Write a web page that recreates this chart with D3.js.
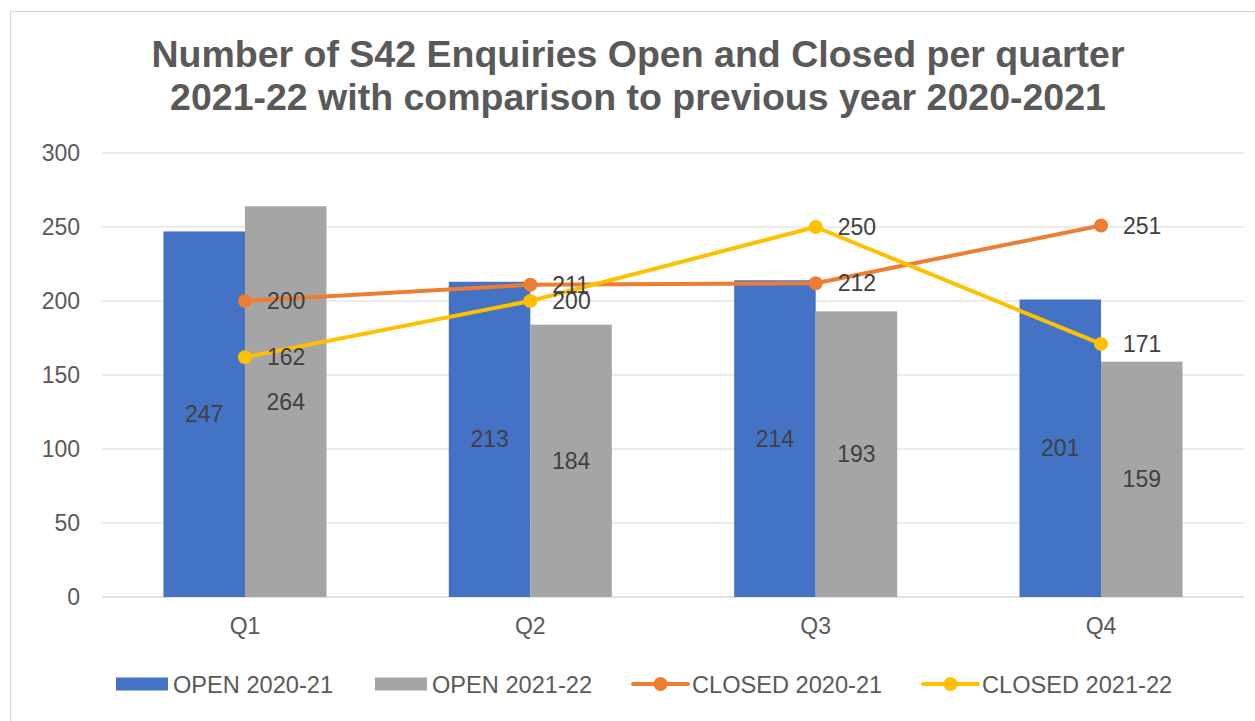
<!DOCTYPE html>
<html>
<head>
<meta charset="utf-8">
<script src="https://cdn.jsdelivr.net/npm/d3@7"></script>
<style>
  body { margin: 0; background: #fff; }
  svg { display: block; font-family: "Liberation Sans", Arial, sans-serif; }
</style>
</head>
<body>
<svg width="1255" height="721"></svg>
<script>
const categories = ["Q1", "Q2", "Q3", "Q4"];
const open2021 = [247, 213, 214, 201];
const open2122 = [264, 184, 193, 159];
const closed2021 = [200, 211, 212, 251];
const closed2122 = [162, 200, 250, 171];
const yTicks = [0, 50, 100, 150, 200, 250, 300];

const barSeries = [
  { name: "OPEN 2020-21", values: open2021, color: "#4472C4" },
  { name: "OPEN 2021-22", values: open2122, color: "#A5A5A5" }
];
const lineSeries = [
  { name: "CLOSED 2020-21", values: closed2021, color: "#ED7D31" },
  { name: "CLOSED 2021-22", values: closed2122, color: "#FFC000" }
];

const svg = d3.select("svg");

// outer frame (only top/left visible in the crop)
svg.append("rect")
  .attr("x", 10.5).attr("y", 11.5)
  .attr("width", 1400).attr("height", 900)
  .attr("fill", "none").attr("stroke", "#D9D9D9");

// title
const title = svg.append("text")
  .attr("text-anchor", "middle")
  .attr("font-weight", "bold")
  .attr("font-size", 37.5)
  .attr("fill", "#595959");
title.append("tspan").attr("x", 638).attr("y", 67)
  .text("Number of S42 Enquiries Open and Closed per quarter");
title.append("tspan").attr("x", 638).attr("y", 110)
  .text("2021-22 with comparison to previous year 2020-2021");

const x = d3.scaleBand().domain(categories).range([102.3, 1243.7]);
const bw = x.bandwidth();
const x1 = d3.scaleBand().domain(barSeries.map(s => s.name))
  .range([bw * 0.2143, bw * 0.7857]);
const y = d3.scaleLinear().domain([0, 300]).range([597, 153]);

// gridlines
svg.append("g").selectAll("line").data(yTicks).join("line")
  .attr("x1", 102).attr("x2", 1244)
  .attr("y1", d => y(d)).attr("y2", d => y(d))
  .attr("stroke", "#D9D9D9").attr("stroke-width", d => d === 0 ? 1.5 : 1);

// y tick labels
svg.append("g").selectAll("text").data(yTicks).join("text")
  .attr("x", 80).attr("y", d => y(d) + 8)
  .attr("text-anchor", "end")
  .attr("font-size", 23).attr("fill", "#595959")
  .text(d => d);

// category labels
svg.append("g").selectAll("text").data(categories).join("text")
  .attr("x", d => x(d) + bw / 2).attr("y", 634)
  .attr("text-anchor", "middle")
  .attr("font-size", 23).attr("fill", "#595959")
  .text(d => d);

// bars
barSeries.forEach(s => {
  svg.append("g").selectAll("rect").data(s.values).join("rect")
    .attr("x", (d, i) => x(categories[i]) + x1(s.name))
    .attr("width", x1.bandwidth())
    .attr("y", d => y(d))
    .attr("height", d => y(0) - y(d))
    .attr("fill", s.color);
});

// lines
lineSeries.forEach(s => {
  const line = d3.line()
    .x((d, i) => x(categories[i]) + bw / 2)
    .y(d => y(d));
  svg.append("path").datum(s.values)
    .attr("d", line)
    .attr("fill", "none").attr("stroke", s.color)
    .attr("stroke-width", 4).attr("stroke-linejoin", "round");
  svg.append("g").selectAll("circle").data(s.values).join("circle")
    .attr("cx", (d, i) => x(categories[i]) + bw / 2)
    .attr("cy", d => y(d))
    .attr("r", 7)
    .attr("fill", s.color);
});

// bar data labels
barSeries.forEach(s => {
  svg.append("g").selectAll("text").data(s.values).join("text")
    .attr("x", (d, i) => x(categories[i]) + x1(s.name) + x1.bandwidth() / 2)
    .attr("y", d => (y(d) + y(0)) / 2 + 8)
    .attr("text-anchor", "middle")
    .attr("font-size", 23).attr("fill", "#404040")
    .text(d => d);
});

// line data labels
lineSeries.forEach(s => {
  svg.append("g").selectAll("text").data(s.values).join("text")
    .attr("x", (d, i) => x(categories[i]) + bw / 2 + 22)
    .attr("y", d => y(d) + 8)
    .attr("font-size", 23).attr("fill", "#404040")
    .text(d => d);
});

// legend
const legendY = 684;
const legend = svg.append("g");
const legendItems = [
  { s: barSeries[0], x: 116, type: "bar" },
  { s: barSeries[1], x: 375, type: "bar" },
  { s: lineSeries[0], x: 633, type: "line" },
  { s: lineSeries[1], x: 923, type: "line" }
];
legendItems.forEach(it => {
  if (it.type === "bar") {
    legend.append("rect")
      .attr("x", it.x).attr("y", legendY - 6.5)
      .attr("width", 52).attr("height", 13)
      .attr("fill", it.s.color);
    legend.append("text")
      .attr("x", it.x + 57).attr("y", legendY + 8.5)
      .attr("font-size", 23.6).attr("fill", "#595959")
      .text(it.s.name);
  } else {
    legend.append("line")
      .attr("x1", it.x).attr("x2", it.x + 55)
      .attr("y1", legendY).attr("y2", legendY)
      .attr("stroke", it.s.color).attr("stroke-width", 4)
      .attr("stroke-linecap", "round");
    legend.append("circle")
      .attr("cx", it.x + 27.5).attr("cy", legendY).attr("r", 7)
      .attr("fill", it.s.color);
    legend.append("text")
      .attr("x", it.x + 59).attr("y", legendY + 8.5)
      .attr("font-size", 23.6).attr("fill", "#595959")
      .text(it.s.name);
  }
});
</script>
</body>
</html>
